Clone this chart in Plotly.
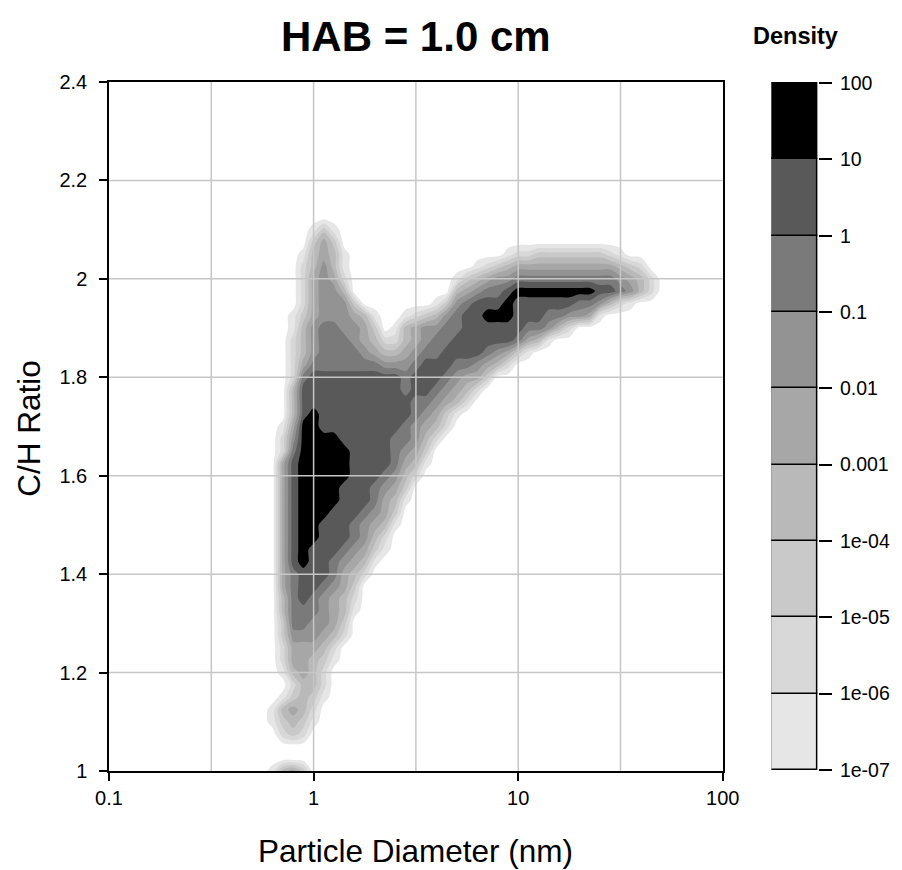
import plotly.graph_objects as go

# ---- data -----------------------------------------------------------------
# grid columns: log10 of particle diameter (nm)
LOG10_DIAMETER = [-0.35, -0.30, -0.25, -0.20, -0.15, -0.10, -0.05, 0.00, 0.05, 0.10,
                  0.15, 0.20, 0.25, 0.30, 0.35, 0.40, 0.45, 0.50, 0.55, 0.60,
                  0.65, 0.70, 0.75, 0.80, 0.85, 0.90, 0.95, 1.00, 1.05, 1.10,
                  1.15, 1.20, 1.25, 1.30, 1.35, 1.40, 1.45, 1.50, 1.55, 1.60,
                  1.65, 1.70, 1.75, 1.80]
# grid rows: C/H ratio (top to bottom)
CH_RATIO = [2.150, 2.125, 2.100, 2.075, 2.050, 2.025, 2.000, 1.975, 1.950, 1.925,
            1.900, 1.875, 1.850, 1.825, 1.800, 1.775, 1.750, 1.725, 1.700, 1.675,
            1.650, 1.625, 1.600, 1.575, 1.550, 1.525, 1.500, 1.475, 1.450, 1.425,
            1.400, 1.375, 1.350, 1.325, 1.300, 1.275, 1.250, 1.225, 1.200, 1.175,
            1.150, 1.125, 1.100, 1.075, 1.050, 1.025, 1.000, 0.975, 0.950]
# density band read at each grid node: digit d means density in [1e(d-8), 1e(d-7)),
# 0 = below 1e-07. Each row: list of (first column, digits); other columns are 0.
DENSITY_BAND_ROWS = [
    [], [], [(7, "131")], [(7, "353")],
    [(6, "14541"), (26, "122333333321")],
    [(6, "24641"), (23, "12345555555555432")],
    [(6, "25652"), (21, "13456677777777776542")],
    [(6, "25664"), (21, "45677899999999887642")],
    [(6, "256663"), (19, "13678889888888776421")],
    [(5, "135666541"), (16, "12346788999888776651")],
    [(5, "1467766530145667788888877642")],
    [(5, "24677765422456778888887541")],
    [(5, "246777765445677888876531")],
    [(5, "2577777776667888776542")],
    [(5, "27888888888788876553")],
    [(5, "4888888888878876542")],
    [(5, "488888888888776542")],
    [(5, "48988888888876531")],
    [(4, "15998888888876542")],
    [(4, "2699998888877642")],
    [(4, "279999988887653")],
    [(4, "589999988887541")],
    [(4, "58999998887642")],
    [(4, "5899998887653")],
    [(4, "5899998887541")],
    [(4, "589998887653")],
    [(4, "589988876541")],
    [(4, "58998887642")],
    [(4, "58988876531")],
    [(4, "5898876541")],
    [(4, "578887542")],
    [(4, "57887653")],
    [(4, "47876542")],
    [(4, "47776541")],
    [(4, "3776653")],
    [(4, "3666542")],
    [(4, "255542")],
    [(4, "255431")],
    [(4, "14542")],
    [(5, "2442")],
    [(4, "13431")],
    [(3, "14542")],
    [(3, "13431")],
    [(4, "232")],
    [], [],
    [(3, "1453")],
    [(3, "25541")],
    [(4, "342")],
]

X_TICK_VALUES = [-1, 0, 1, 2]
X_TICK_LABELS = ["0.1", "1", "10", "100"]
Y_TICK_VALUES = [1.0, 1.2, 1.4, 1.6, 1.8, 2.0, 2.2, 2.4]
Y_TICK_LABELS = ["1", "1.2", "1.4", "1.6", "1.8", "2", "2.2", "2.4"]
X_GRID = [-0.5, 0.0, 0.5, 1.0, 1.5]
Y_GRID = [1.2, 1.4, 1.6, 1.8, 2.0, 2.2]
DENSITY_LABELS = ["1e-07", "1e-06", "1e-05", "1e-04", "0.001", "0.01", "0.1", "1", "10", "100"]
BAND_COLORS = ["#e6e6e6", "#d8d8d8", "#c9c9c9", "#b9b9b9", "#a7a7a7",
               "#939393", "#7a7a7a", "#595959", "#000000"]

# ---- build the grid ----------------------------------------------------------
ncol = len(LOG10_DIAMETER)
z_rows = []
for segs in DENSITY_BAND_ROWS:
    row = [0] * ncol
    for start, digits in segs:
        for k, ch in enumerate(digits):
            row[start + k] = int(ch)
    # log10(density) at the centre of the band
    z_rows.append([d - 7.5 for d in row])
ys = CH_RATIO[::-1]
zs = z_rows[::-1]

FONT = "Liberation Sans, Arial, sans-serif"
fill_scale = [[0.0, "#ffffff"]] + [[(i + 1) / 9, c] for i, c in enumerate(BAND_COLORS)]

fig = go.Figure()
fig.add_trace(go.Contour(
    x=LOG10_DIAMETER, y=ys, z=zs, autocontour=False,
    contours=dict(start=-7, end=1, size=1, coloring="fill", showlines=False),
    colorscale=fill_scale, showscale=False,
    line=dict(width=0, smoothing=0.8), hoverinfo="skip",
))
# colour key built as stacked bars on a second axis pair
fig.add_trace(go.Bar(
    x=[0] * len(BAND_COLORS), y=[1] * len(BAND_COLORS),
    base=list(range(len(BAND_COLORS))),
    width=1, marker=dict(color=BAND_COLORS, line=dict(color="black", width=1.5)),
    xaxis="x2", yaxis="y2", hoverinfo="skip", showlegend=False,
))

# ---- layout geometry (window pixels of the target picture) -------------------
OFF = 8            # page body margin
KX = 0.992         # small horizontal correction observed in the rendered page
def dx(x):
    return x / KX

W, H = 902 - OFF, 870 - OFF
L = dx(108) - OFF
R = (OFF + W) - dx(823)
T = 82 - OFF
B = H - (771 - OFF)
pw = W - L - R
ph = H - T - B
main_right = (dx(727) - dx(108)) / pw
cb_left = (dx(776) - dx(108)) / pw

def px_to_paper_x(px):
    return (dx(px) - dx(108)) / pw
def px_to_paper_y(py):
    return (771 - py) / ph

shapes = []
for gx in X_GRID:
    shapes.append(dict(type="line", xref="x", yref="y", x0=gx, x1=gx, y0=1.0, y1=2.4,
                       line=dict(color="#c6c6c6", width=1.5), layer="above"))
for gy in Y_GRID:
    shapes.append(dict(type="line", xref="x", yref="y", x0=-1, x1=2, y0=gy, y1=gy,
                       line=dict(color="#c6c6c6", width=1.5), layer="above"))

fig.update_layout(
    width=W, height=H, margin=dict(l=L, r=R, t=T, b=B),
    plot_bgcolor="white", paper_bgcolor="white",
    font=dict(family=FONT, color="black", size=20), showlegend=False,
    shapes=shapes,
    xaxis=dict(domain=[0, main_right], range=[-1, 2], tickvals=X_TICK_VALUES,
               ticktext=X_TICK_LABELS, ticks="outside", ticklen=8, tickwidth=1.5,
               tickcolor="black", showline=True, linecolor="black", linewidth=1.5,
               mirror=True, showgrid=False, zeroline=False,
               tickfont=dict(size=20, family=FONT)),
    yaxis=dict(domain=[0, 1], range=[1.0, 2.4], tickvals=Y_TICK_VALUES,
               ticktext=Y_TICK_LABELS, ticks="outside", ticklen=8, tickwidth=1.5,
               tickcolor="black", showline=True, linecolor="black", linewidth=1.5,
               mirror=True, showgrid=False, zeroline=False, ticklabelstandoff=8,
               tickfont=dict(size=20, family=FONT)),
    xaxis2=dict(domain=[cb_left, 1.0], range=[-0.51, 0.51], anchor="y2", visible=False),
    yaxis2=dict(domain=[0, 1], range=[-0.015, 9.015], anchor="x2", side="right",
                tickvals=list(range(10)), ticktext=DENSITY_LABELS,
                ticks="outside", ticklen=13, tickwidth=1.5, tickcolor="black",
                showline=False, showgrid=False, zeroline=False, ticklabelstandoff=4,
                tickfont=dict(size=19.5, family=FONT)),
    bargap=0,
    annotations=[
        dict(text="<b>HAB = 1.0 cm</b>", xref="paper", yref="paper",
             x=px_to_paper_x(417.5), y=px_to_paper_y(36), xanchor="center",
             yanchor="middle", showarrow=False, font=dict(size=42, family=FONT)),
        dict(text="<b>Density</b>", xref="paper", yref="paper",
             x=px_to_paper_x(800), y=px_to_paper_y(36), xanchor="center",
             yanchor="middle", showarrow=False, font=dict(size=23.5, family=FONT)),
        dict(text="Particle Diameter (nm)", xref="paper", yref="paper",
             x=px_to_paper_x(417.5), y=px_to_paper_y(851), xanchor="center",
             yanchor="middle", showarrow=False, font=dict(size=31.5, family=FONT)),
        dict(text="C/H Ratio", xref="paper", yref="paper",
             x=px_to_paper_x(27), y=px_to_paper_y(428), xanchor="center",
             yanchor="middle", showarrow=False, textangle=-90,
             font=dict(size=31.5, family=FONT)),
    ],
)

fig.write_html("out.html", config={"displayModeBar": False},
               post_script="document.documentElement.style.overflow='hidden';"
                           "document.body.style.overflow='hidden';")
